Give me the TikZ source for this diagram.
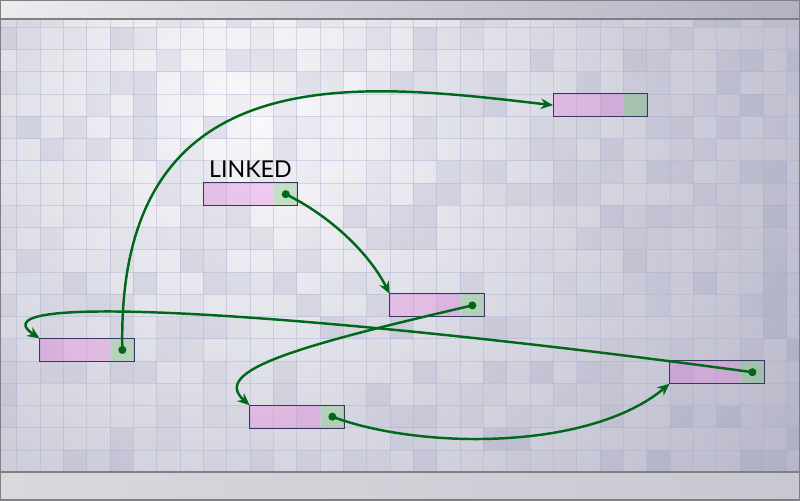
\documentclass[tikz,border=0pt]{standalone}
\usepackage{fontspec}
\setmainfont{Lato}
\usetikzlibrary{positioning,calc,arrows.meta}

\definecolor{linkgreen}{RGB}{0,105,25}
\definecolor{boxedge}{RGB}{55,55,95}
\definecolor{datapink}{RGB}{230,110,220}
\definecolor{ptrgreen}{RGB}{110,190,110}
\definecolor{gridline}{RGB}{170,170,210}
\definecolor{cellshade}{RGB}{120,120,165}
\definecolor{bgcenter}{RGB}{250,250,252}
\definecolor{bgouter}{RGB}{176,176,196}
\definecolor{barleft}{RGB}{236,236,239}
\definecolor{barright}{RGB}{178,178,195}
\definecolor{botleft}{RGB}{216,216,221}
\definecolor{botright}{RGB}{200,200,210}
\definecolor{barline}{RGB}{128,128,130}

\tikzset{
  datacell/.style={rectangle, minimum width=1.4cm, minimum height=0.445cm, inner sep=0pt, fill=datapink, fill opacity=0.3},
  ptrcell/.style={rectangle, minimum width=0.4667cm, minimum height=0.445cm, inner sep=0pt, fill=ptrgreen, fill opacity=0.35},
  boxframe/.style={draw=boxedge, line width=0.6pt},
  link/.style={draw=linkgreen, line width=1.4pt, -{Stealth[length=7pt,width=6pt]}},
  linkdot/.style={fill=linkgreen},
  listlabel/.style={font=\fontsize{13.2}{15}\selectfont, text=black, inner sep=0pt},
}

\begin{document}
\begin{tikzpicture}[x=0.02cm,y=0.02cm]
    \useasboundingbox (0,0) rectangle (800,500);

    % background grid
    \begin{scope}
        \clip (0,28) rectangle (800,481);
        \shade[inner color=bgcenter, outer color=bgouter] (250,390) circle (720);
        \pgfmathsetseed{11}
        \foreach \i in {-1,...,33}
            \foreach \j in {-1,...,19} {
                \pgfmathsetmacro{\op}{max(0,rnd*0.3-0.13)}
                \fill[cellshade, opacity=\op] ({16.7+23.333*\i},{472.7-22.25*\j}) rectangle ++(23.333,-22.25);
            }
        \foreach \k in {-1,...,33}
            \draw[gridline, line width=0.6pt, opacity=0.4] ({16.7+23.333*\k},28) -- ++(0,453);
        \foreach \k in {0,...,19}
            \draw[gridline, line width=0.6pt, opacity=0.4] (0,{472.7-22.25*\k}) -- ++(800,0);
    \end{scope}

    % bars
    \shade[left color=barleft, right color=barright] (0,481) rectangle (800,500);
    \shade[left color=botleft, right color=botright] (0,0) rectangle (800,28);
    \draw[barline, line width=1.2pt] (0,481) -- (800,481);
    \draw[barline, line width=1.2pt] (0,28) -- (800,28);
    \draw[barline, line width=0.8pt] (0,0) rectangle (800,500);

    % list cells
    \node[datacell] (a) at (238.4,305.8) {};
    \node[ptrcell, right=0pt of a] (pa) {};
    \node[datacell] (b) at (588.4,394.8) {};
    \node[ptrcell, right=0pt of b] (pb) {};
    \node[datacell] (c) at (425.0,194.6) {};
    \node[ptrcell, right=0pt of c] (pc) {};
    \node[datacell] (d) at (75.0,150.1) {};
    \node[ptrcell, right=0pt of d] (pd) {};
    \node[datacell] (e) at (705.0,127.8) {};
    \node[ptrcell, right=0pt of e] (pe) {};
    \node[datacell] (f) at (285.0,83.3) {};
    \node[ptrcell, right=0pt of f] (pf) {};

    \foreach \n in {a,b,c,d,e,f}
        \draw[boxframe] (\n.north west) rectangle (p\n.south east);

    \node[listlabel, anchor=base] (lbl) at ($(a.north west)!.5!(pa.north east)+(0,5.6)$) {LINKED};

    % links
    \draw[link] (pa.center) .. controls +(45,-22) and +(-20,40) .. (c.north west);
    \draw[link] (pc.center) .. controls +(-172,-40) and +(-40,35) .. (f.north west);
    \draw[link] (pf.center) .. controls +(88,-33) and +(-80,-67) .. (e.south west);
    \draw[link] (pe.center) .. controls +(-402,55) and +(-75,50) .. (d.north west);
    \draw[link] (pd.center) .. controls +(-7,300) and +(-190,22) .. (b.west);

    \foreach \n in {a,c,d,e,f}
        \fill[linkdot] (p\n) circle (2.3pt);
\end{tikzpicture}
\end{document}
